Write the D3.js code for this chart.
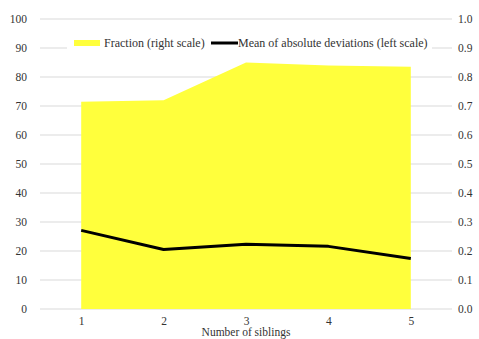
<!DOCTYPE html>
<html><head><meta charset="utf-8">
<script src="https://cdn.jsdelivr.net/npm/d3@7"></script>
<style>body{margin:0;background:#fff}svg{display:block}text{font-family:"Liberation Serif","Times New Roman",Times,serif !important;fill:#333}</style>
</head><body><svg id="c" width="479" height="339"></svg>
<script>
const categories = ["1","2","3","4","5"];
const fraction = [0.715, 0.72, 0.85, 0.84, 0.835];
const meanAbsDev = [27.1, 20.5, 22.3, 21.6, 17.4];
const leftTicks = [0,10,20,30,40,50,60,70,80,90,100];
const rightTicks = [0,0.1,0.2,0.3,0.4,0.5,0.6,0.7,0.8,0.9,1.0];

const svg = d3.select("#c");
const L = 40, R = 452, T = 19, B = 309;
const x = d3.scalePoint().domain(categories).range([L, R]).padding(0.5);
const yL = d3.scaleLinear().domain([0,100]).range([B, T]);
const yR = d3.scaleLinear().domain([0,1]).range([B, T]);

svg.append("g").selectAll("line").data(leftTicks).join("line")
  .attr("x1", L).attr("x2", R).attr("y1", d=>yL(d)).attr("y2", d=>yL(d))
  .attr("stroke", "#d9d9d9").attr("stroke-width", 1);

svg.append("path").datum(fraction)
  .attr("d", d3.area().x((d,i)=>x(categories[i])).y0(yR(0)).y1(d=>yR(d)))
  .attr("fill", "#ffff3c");

svg.append("path").datum(meanAbsDev)
  .attr("d", d3.line().x((d,i)=>x(categories[i])).y(d=>yL(d)))
  .attr("fill", "none").attr("stroke", "#000").attr("stroke-width", 3).attr("stroke-linejoin","round");

const axL = d3.axisLeft(yL).tickValues(leftTicks).tickSize(0).tickPadding(0).tickFormat(d3.format("d"));
const gL = svg.append("g").attr("transform", `translate(${L-13},0)`).call(axL);
gL.select(".domain").remove();
gL.selectAll("text").style("font-size","11.5px");

const axR = d3.axisRight(yR).tickValues(rightTicks).tickSize(0).tickPadding(0).tickFormat(d3.format(".1f"));
const gR = svg.append("g").attr("transform", `translate(${R+6},0)`).call(axR);
gR.select(".domain").remove();
gR.selectAll("text").style("font-size","11.5px");

const axB = d3.axisBottom(x).tickSize(0).tickPadding(0);
const gB = svg.append("g").attr("transform", `translate(0,${B+8})`).call(axB);
gB.select(".domain").remove();
gB.selectAll("text").style("font-size","11.5px");

svg.append("text").attr("x", (L+R)/2).attr("y", 336).attr("text-anchor","middle")
  .style("font-size","11.5px").text("Number of siblings");

const lg = svg.append("g");
lg.append("rect").attr("x", 67).attr("y", 34).attr("width", 365).attr("height", 18).attr("fill", "#fff");
lg.append("rect").attr("x", 74).attr("y", 40).attr("width", 26).attr("height", 6).attr("fill", "#ffff3c");
lg.append("text").attr("x", 104).attr("y", 47).style("font-size","12px").text("Fraction (right scale)");
lg.append("line").attr("x1", 211).attr("x2", 238).attr("y1", 43).attr("y2", 43).attr("stroke","#000").attr("stroke-width",3);
lg.append("text").attr("x", 238).attr("y", 47).style("font-size","12px").text("Mean of absolute deviations (left scale)");
</script></body></html>
